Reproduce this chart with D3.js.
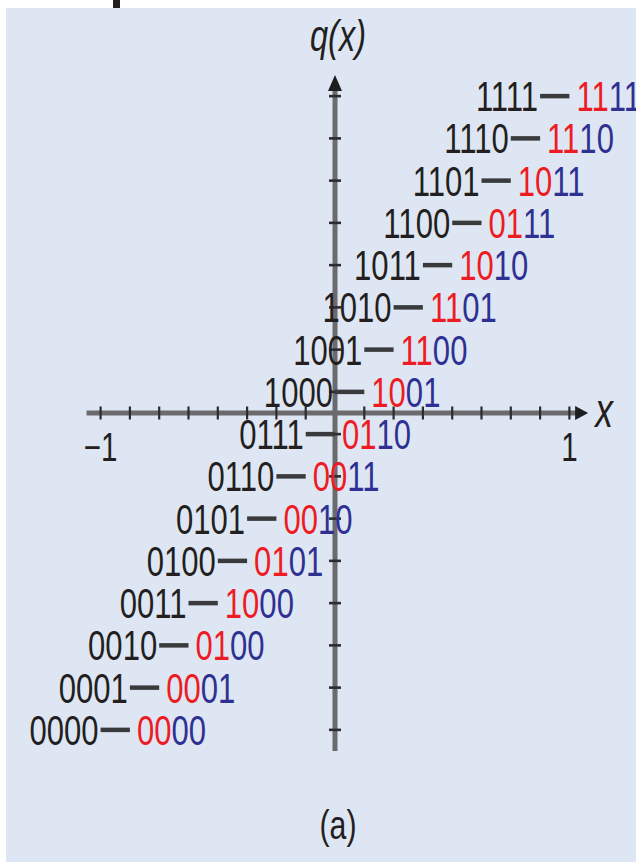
<!DOCTYPE html>
<html>
<head>
<meta charset="utf-8">
<script src="https://cdn.jsdelivr.net/npm/d3@7"></script>
<style>
  html, body { margin: 0; padding: 0; background: #ffffff; }
  svg { display: block; }
</style>
</head>
<body>
<script>
// Uniform 4-bit quantizer on [-1, 1]: input code on the left of each step,
// remapped output code on the right (first two bits red, last two blue).
const inputCodes = ["0000","0001","0010","0011","0100","0101","0110","0111",
                    "1000","1001","1010","1011","1100","1101","1110","1111"];
const outputCodes = ["0000","0001","0100","1000","0101","0010","0011","0110",
                     "1001","1100","1101","1010","0111","1011","1110","1111"];
// Output level q(x) of each step and the x interval it covers
const qLevels = [-0.9375,-0.8125,-0.6875,-0.5625,-0.4375,-0.3125,-0.1875,-0.0625,
                  0.0625, 0.1875, 0.3125, 0.4375, 0.5625, 0.6875, 0.8125, 0.9375];
const stepStart = [-1,-0.875,-0.75,-0.625,-0.5,-0.375,-0.25,-0.125,
                    0, 0.125, 0.25, 0.375, 0.5, 0.625, 0.75, 0.875];
const stepEnd = [-0.875,-0.75,-0.625,-0.5,-0.375,-0.25,-0.125,0,
                  0.125, 0.25, 0.375, 0.5, 0.625, 0.75, 0.875, 1];
// Axis ticks and labels
const xTicks = [-1,-0.875,-0.75,-0.625,-0.5,-0.375,-0.25,-0.125,0,
                0.125,0.25,0.375,0.5,0.625,0.75,0.875,1];
const xTickLabels = [{v: -1, t: "\u22121"}, {v: 1, t: "1"}];

const W = 636, H = 862;
const FONT = "'Liberation Sans', Arial, Helvetica, sans-serif";
const SX = 0.74;            // narrow digits
const RED = "#ed1c24", BLUE = "#2e3192", INK = "#231f20";

const svg = d3.select("body").append("svg")
  .attr("width", W).attr("height", H);

// panel background
svg.append("rect").attr("x", 6).attr("y", 8)
  .attr("width", W - 6).attr("height", H - 8).attr("fill", "#dfe6f3");
// fragment of the heading above the panel
svg.append("rect").attr("x", 113).attr("y", 0)
  .attr("width", 7).attr("height", 8).attr("fill", INK);

const x = d3.scaleLinear().domain([-1, 1]).range([100.6, 569.4]);
const y = d3.scaleLinear().domain([-1, 1]).range([751, 75]);

const AXIS = "#6b6b6e";

// x axis line
svg.append("line")
  .attr("x1", x(-1.06)).attr("x2", x(1.03))
  .attr("y1", y(0)).attr("y2", y(0))
  .attr("stroke", AXIS).attr("stroke-width", 5);
// x ticks
svg.append("g").selectAll("line").data(xTicks).join("line")
  .attr("x1", d => x(d)).attr("x2", d => x(d))
  .attr("y1", y(0) - 6.5).attr("y2", y(0) + 6.5)
  .attr("stroke", "#2c2c2e").attr("stroke-width", 2.2);
// x arrowhead
{
  const tip = x(1.08), cy = y(0);
  svg.append("path")
    .attr("d", `M${tip},${cy} L${tip - 13},${cy - 7} L${tip - 13},${cy + 7} Z`)
    .attr("fill", "#1e1e20");
}

// y axis line
svg.append("line")
  .attr("x1", x(0)).attr("x2", x(0))
  .attr("y1", y(1) + 6).attr("y2", y(-1))
  .attr("stroke", AXIS).attr("stroke-width", 5);
// y ticks at every output level
svg.append("g").selectAll("line").data(qLevels).join("line")
  .attr("x1", x(0) - 6).attr("x2", x(0) + 6)
  .attr("y1", d => y(d)).attr("y2", d => y(d))
  .attr("stroke", "#2c2c2e").attr("stroke-width", 2.6);
// y arrowhead
{
  const tip = y(1), cx = x(0);
  svg.append("path")
    .attr("d", `M${cx},${tip} L${cx - 7},${tip + 16} L${cx + 7},${tip + 16} Z`)
    .attr("fill", "#1e1e20");
}

// axis tick labels
svg.append("g").selectAll("text").data(xTickLabels).join("text")
  .attr("transform", d => `translate(${x(d.v)},${y(0) + 48}) scale(${SX},1)`)
  .attr("text-anchor", "middle")
  .attr("font-family", FONT).attr("font-size", 40)
  .attr("fill", INK)
  .text(d => d.t);

// axis names
svg.append("text")
  .attr("transform", `translate(${x(0) + 3},51) scale(${SX},1)`)
  .attr("text-anchor", "middle")
  .attr("font-family", FONT).attr("font-size", 44).attr("font-style", "italic")
  .attr("fill", INK)
  .text("q(x)");
svg.append("text")
  .attr("transform", `translate(604,427) scale(${SX},1)`)
  .attr("text-anchor", "middle")
  .attr("font-family", FONT).attr("font-size", 48).attr("font-style", "italic")
  .attr("fill", INK)
  .text("x");

// quantizer steps
const idx = d3.range(inputCodes.length);
svg.append("g").selectAll("line").data(idx).join("line")
  .attr("x1", i => x(stepStart[i])).attr("x2", i => x(stepEnd[i]))
  .attr("y1", i => y(qLevels[i])).attr("y2", i => y(qLevels[i]))
  .attr("stroke", "#3a3a3c").attr("stroke-width", 4.5);

// input codes, right of which each step begins
svg.append("g").selectAll("text").data(idx).join("text")
  .attr("transform", i => `translate(${x(stepStart[i]) - 2},${y(qLevels[i]) + 15}) scale(${SX},1)`)
  .attr("text-anchor", "end")
  .attr("font-family", FONT).attr("font-size", 42)
  .attr("fill", INK)
  .text(i => inputCodes[i]);

// output codes after each step
const out = svg.append("g").selectAll("text").data(idx).join("text")
  .attr("transform", i => `translate(${x(stepEnd[i]) + 7},${y(qLevels[i]) + 15}) scale(${SX},1)`)
  .attr("font-family", FONT).attr("font-size", 42);
out.append("tspan").attr("fill", RED).text(i => outputCodes[i].slice(0, 2));
out.append("tspan").attr("fill", BLUE).text(i => outputCodes[i].slice(2));

// panel caption
svg.append("text")
  .attr("transform", `translate(${x(0) + 3},839) scale(${SX},1)`)
  .attr("text-anchor", "middle")
  .attr("font-family", FONT).attr("font-size", 41)
  .attr("fill", INK)
  .text("(a)");
</script>
</body>
</html>
